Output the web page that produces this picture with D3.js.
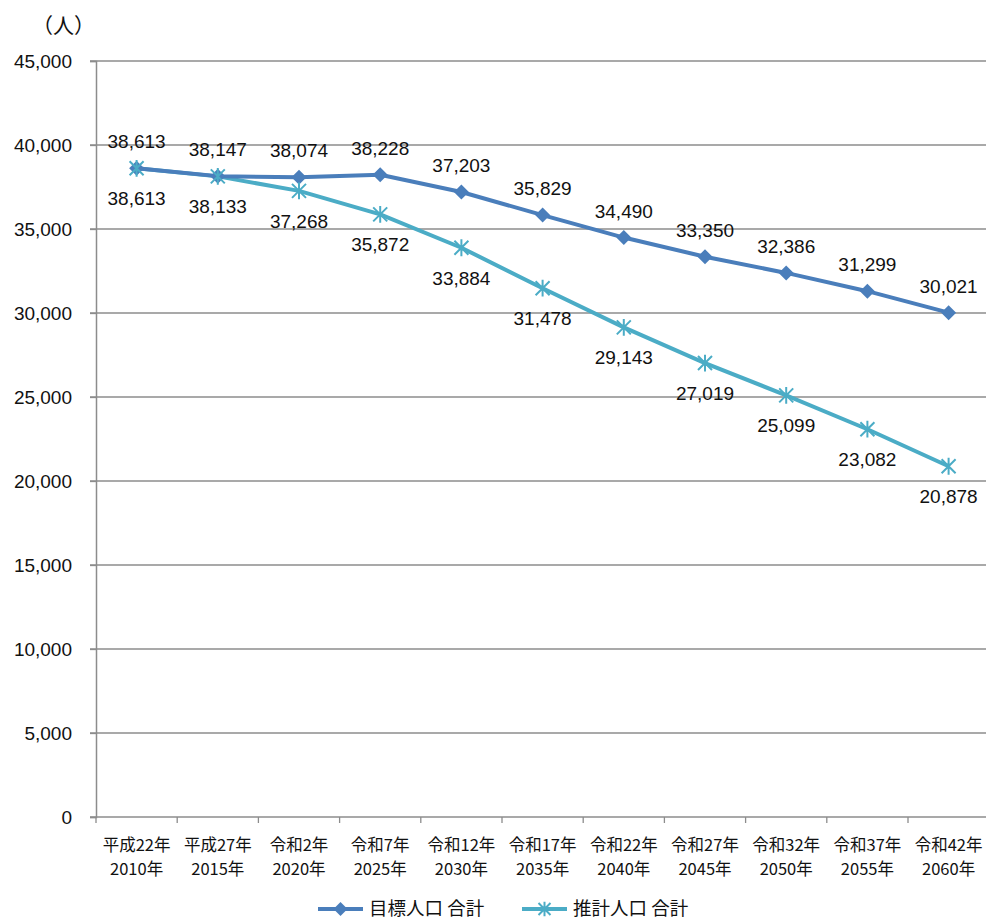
<!DOCTYPE html>
<html><head><meta charset="utf-8">
<script src="https://cdn.jsdelivr.net/npm/d3@7"></script>
<style>
body{margin:0;background:#fff;}
svg{display:block;}
text{font-family:"Liberation Sans",Arial,sans-serif;fill:#111;}
.cjk{font-family:"Noto Sans CJK JP",sans-serif;}
</style></head>
<body>
<svg id="chart" width="986" height="920"></svg>
<script>
// Year categories (two-line labels: era year / western year)
const eraLabels = ["平成22年","平成27年","令和2年","令和7年","令和12年","令和17年","令和22年","令和27年","令和32年","令和37年","令和42年"];
const yearLabels = ["2010年","2015年","2020年","2025年","2030年","2035年","2040年","2045年","2050年","2055年","2060年"];
// Target population total
const targetValues = [38613,38147,38074,38228,37203,35829,34490,33350,32386,31299,30021];
// Projected population total
const projectedValues = [38613,38133,37268,35872,33884,31478,29143,27019,25099,23082,20878];
const yTicks = [0,5000,10000,15000,20000,25000,30000,35000,40000,45000];
const seriesNames = ["目標人口 合計","推計人口 合計"];
const colors = ["#4a7ebb","#4bacc6"];

(function draw(){
const svg = d3.select("#chart");
const mLeft = 96, mTop = 61, mBottom = 817, bandW = 81.2;
const x = d3.scaleBand().domain(d3.range(eraLabels.length)).range([mLeft, mLeft + bandW*eraLabels.length]).padding(0);
const y = d3.scaleLinear().domain([0,45000]).range([mBottom, mTop]);
const fmt = d3.format(",");

// gridlines
svg.append("g").selectAll("line").data(yTicks.filter(d=>d>0)).join("line")
  .attr("x1", mLeft-6).attr("x2", 986)
  .attr("y1", d=>y(d)).attr("y2", d=>y(d))
  .attr("stroke", "#8c8c8c").attr("stroke-width", 1.3);

// y axis
const yAxis = svg.append("g").attr("transform", `translate(${mLeft},0)`)
  .call(d3.axisLeft(y).tickValues(yTicks).tickFormat(fmt).tickSize(6).tickPadding(18));
yAxis.select(".domain").attr("stroke","#8c8c8c").attr("stroke-width",1.5);
yAxis.selectAll(".tick line").attr("stroke","#8c8c8c").attr("stroke-width",1.3);
yAxis.selectAll("text").attr("font-size",19).attr("fill","#111")
  .attr("font-family","Liberation Sans, Arial, sans-serif");

// x axis
const xAxisG = svg.append("g");
xAxisG.append("line").attr("x1", mLeft-6).attr("x2", 986).attr("y1", mBottom).attr("y2", mBottom)
  .attr("stroke","#8c8c8c").attr("stroke-width",1.5);
xAxisG.selectAll("line.t").data(d3.range(eraLabels.length+1)).join("line").attr("class","t")
  .attr("x1", i=>mLeft+i*bandW).attr("x2", i=>mLeft+i*bandW)
  .attr("y1", mBottom).attr("y2", mBottom+6)
  .attr("stroke","#8c8c8c").attr("stroke-width",1.3);
const xl = xAxisG.selectAll("text.xl").data(eraLabels).join("text").attr("class","xl cjk")
  .attr("x",(d,i)=>x(i)+bandW/2).attr("text-anchor","middle").attr("font-size",16.5);
xl.append("tspan").attr("x",(d,i)=>x(i)+bandW/2).attr("y",mBottom+34).text(d=>d);
xl.append("tspan").attr("x",(d,i)=>x(i)+bandW/2).attr("y",mBottom+58).text((d,i)=>yearLabels[i]);

// unit label
svg.append("text").attr("class","cjk").attr("x",32).attr("y",33).attr("font-size",21).text("（人）");

const cx = i => x(i) + bandW/2;
const line = d3.line().x((d,i)=>cx(i)).y(d=>y(d));

// projected series (drawn first, underneath)
svg.append("path").datum(projectedValues).attr("d",line).attr("fill","none")
  .attr("stroke",colors[1]).attr("stroke-width",4).attr("stroke-linejoin","round");
// target series
svg.append("path").datum(targetValues).attr("d",line).attr("fill","none")
  .attr("stroke",colors[0]).attr("stroke-width",4).attr("stroke-linejoin","round");

function diamond(g, px, py, r, c){
  g.append("path").attr("d",`M${px},${py-r}L${px+r},${py}L${px},${py+r}L${px-r},${py}Z`).attr("fill",c);
}
function star(g, px, py, r, c){
  const d = `M${px-r},${py-r}L${px+r},${py+r}M${px-r},${py+r}L${px+r},${py-r}M${px},${py-r*1.2}L${px},${py+r*1.2}`;
  g.append("path").attr("d",d).attr("stroke",c).attr("stroke-width",2).attr("fill","none");
}
const mk = svg.append("g");
targetValues.forEach((v,i)=>diamond(mk, cx(i), y(v), 7.5, colors[0]));
projectedValues.forEach((v,i)=>star(mk, cx(i), y(v), 7, colors[1]));

// value labels: target above, projected below
svg.append("g").selectAll("text").data(targetValues).join("text")
  .attr("x",(d,i)=>cx(i)).attr("y",d=>y(d)-20).attr("text-anchor","middle").attr("font-size",19).text(fmt);
svg.append("g").selectAll("text").data(projectedValues).join("text")
  .attr("x",(d,i)=>cx(i)).attr("y",d=>y(d)+37).attr("text-anchor","middle").attr("font-size",19).text(fmt);

// legend
const lg = svg.append("g");
[[318,colors[0],"d"],[522,colors[1],"s"]].forEach(([lx,c,t],k)=>{
  lg.append("line").attr("x1",lx).attr("x2",lx+45).attr("y1",909).attr("y2",909).attr("stroke",c).attr("stroke-width",4);
  if(t==="d") diamond(lg, lx+22.5, 909, 7, c); else star(lg, lx+22.5, 909, 6, c);
  lg.append("text").attr("class","cjk").attr("x",lx+51).attr("y",915).attr("font-size",18.5).text(seriesNames[k]);
});
})();
</script>
</body></html>
